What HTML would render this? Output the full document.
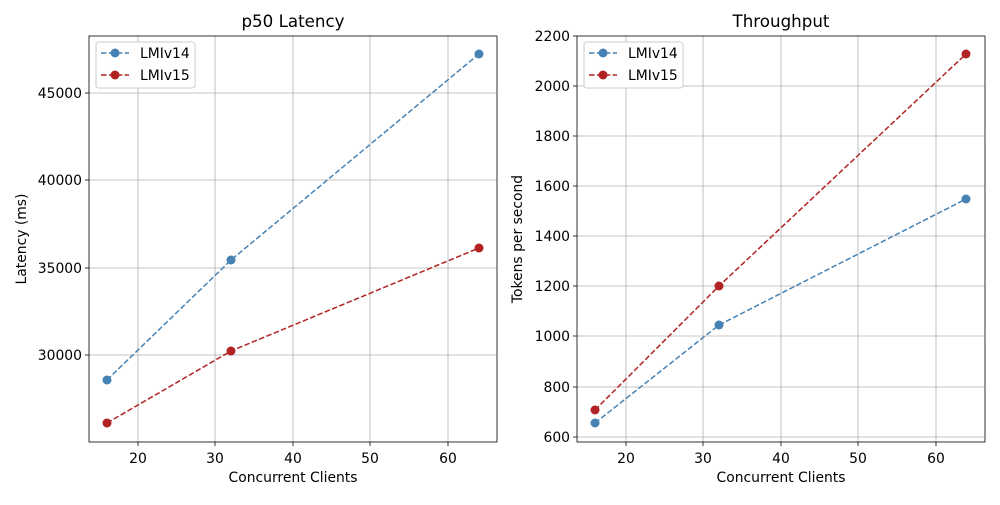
<!DOCTYPE html>
<html><head><style>body{margin:0;background:#fff}svg text{font-family:"DejaVu Sans","Liberation Sans",sans-serif;fill:#000}</style></head><body>
<svg width="1000" height="500" xmlns="http://www.w3.org/2000/svg">
<rect width="1000" height="500" fill="#fff"/>
<g stroke="#b0b0b0" stroke-width="0.8">
<line x1="138" y1="36" x2="138" y2="442"/><line x1="215" y1="36" x2="215" y2="442"/><line x1="293" y1="36" x2="293" y2="442"/><line x1="370" y1="36" x2="370" y2="442"/><line x1="448" y1="36" x2="448" y2="442"/>
<line x1="89" y1="93" x2="497" y2="93"/><line x1="89" y1="180" x2="497" y2="180"/><line x1="89" y1="268" x2="497" y2="268"/><line x1="89" y1="355" x2="497" y2="355"/>
<line x1="626" y1="36" x2="626" y2="442"/><line x1="703" y1="36" x2="703" y2="442"/><line x1="781" y1="36" x2="781" y2="442"/><line x1="858" y1="36" x2="858" y2="442"/><line x1="936" y1="36" x2="936" y2="442"/>
<line x1="577" y1="86" x2="985" y2="86"/><line x1="577" y1="136" x2="985" y2="136"/><line x1="577" y1="186" x2="985" y2="186"/><line x1="577" y1="236" x2="985" y2="236"/><line x1="577" y1="286" x2="985" y2="286"/><line x1="577" y1="336" x2="985" y2="336"/><line x1="577" y1="387" x2="985" y2="387"/><line x1="577" y1="437" x2="985" y2="437"/>
</g>
<g fill="none" stroke-width="1.5" stroke-dasharray="5.5,2.4">
<polyline points="107,380 231,260 479,54" stroke="#4682b4"/>
<polyline points="107,423 231,351 479,248" stroke="#b22222"/>
<polyline points="595,423 719,325 966,199" stroke="#4682b4"/>
<polyline points="595,410 719,286 966,54" stroke="#b22222"/>
</g>
<g fill="#4682b4"><circle cx="107" cy="380" r="4.5"/><circle cx="231" cy="260" r="4.5"/><circle cx="479" cy="54" r="4.5"/><circle cx="595" cy="423" r="4.5"/><circle cx="719" cy="325" r="4.5"/><circle cx="966" cy="199" r="4.5"/></g>
<g fill="#b22222"><circle cx="107" cy="423" r="4.5"/><circle cx="231" cy="351" r="4.5"/><circle cx="479" cy="248" r="4.5"/><circle cx="595" cy="410" r="4.5"/><circle cx="719" cy="286" r="4.5"/><circle cx="966" cy="54" r="4.5"/></g>
<g fill="none" stroke="#000" stroke-width="0.8"><rect x="89" y="36" width="408" height="406"/><rect x="577" y="36" width="408" height="406"/></g>
<g stroke="#000" stroke-width="0.8">
<line x1="138" y1="442" x2="138" y2="446"/><line x1="215" y1="442" x2="215" y2="446"/><line x1="293" y1="442" x2="293" y2="446"/><line x1="370" y1="442" x2="370" y2="446"/><line x1="448" y1="442" x2="448" y2="446"/>
<line x1="85" y1="93" x2="89" y2="93"/><line x1="85" y1="180" x2="89" y2="180"/><line x1="85" y1="268" x2="89" y2="268"/><line x1="85" y1="355" x2="89" y2="355"/>
<line x1="626" y1="442" x2="626" y2="446"/><line x1="703" y1="442" x2="703" y2="446"/><line x1="781" y1="442" x2="781" y2="446"/><line x1="858" y1="442" x2="858" y2="446"/><line x1="936" y1="442" x2="936" y2="446"/>
<line x1="573" y1="36" x2="577" y2="36"/><line x1="573" y1="86" x2="577" y2="86"/><line x1="573" y1="136" x2="577" y2="136"/><line x1="573" y1="186" x2="577" y2="186"/><line x1="573" y1="236" x2="577" y2="236"/><line x1="573" y1="286" x2="577" y2="286"/><line x1="573" y1="336" x2="577" y2="336"/><line x1="573" y1="387" x2="577" y2="387"/><line x1="573" y1="437" x2="577" y2="437"/>
</g>
<g font-size="13.9" text-anchor="middle">
<text x="138" y="463">20</text><text x="215" y="463">30</text><text x="293" y="463">40</text><text x="370" y="463">50</text><text x="448" y="463">60</text>
<text x="626" y="463">20</text><text x="703" y="463">30</text><text x="781" y="463">40</text><text x="858" y="463">50</text><text x="936" y="463">60</text>
<text x="293" y="482">Concurrent Clients</text><text x="781" y="482">Concurrent Clients</text>
<text x="293" y="27" font-size="16.7">p50 Latency</text><text x="781" y="27" font-size="16.7">Throughput</text>
</g>
<g font-size="13.9" text-anchor="end">
<text x="82" y="98">45000</text><text x="82" y="185">40000</text><text x="82" y="273">35000</text><text x="82" y="360">30000</text>
<text x="570" y="41">2200</text><text x="570" y="91">2000</text><text x="570" y="141">1800</text><text x="570" y="191">1600</text><text x="570" y="241">1400</text><text x="570" y="291">1200</text><text x="570" y="341">1000</text><text x="570" y="392">800</text><text x="570" y="442">600</text>
</g>
<text transform="translate(26,239) rotate(-90)" font-size="13.9" text-anchor="middle">Latency (ms)</text>
<text transform="translate(522,239) rotate(-90)" font-size="13.9" text-anchor="middle">Tokens per second</text>
<g font-size="13.9">
<rect x="96" y="42" width="99" height="46" rx="3" fill="#fff" stroke="#ccc"/>
<line x1="101" y1="53" x2="129" y2="53" stroke="#4682b4" stroke-width="1.5" stroke-dasharray="5.5,2.4"/><circle cx="115" cy="53" r="4.5" fill="#4682b4"/><text x="140" y="58">LMIv14</text>
<line x1="101" y1="75" x2="129" y2="75" stroke="#b22222" stroke-width="1.5" stroke-dasharray="5.5,2.4"/><circle cx="115" cy="75" r="4.5" fill="#b22222"/><text x="140" y="80">LMIv15</text>
<rect x="584" y="42" width="99" height="46" rx="3" fill="#fff" stroke="#ccc"/>
<line x1="589" y1="53" x2="617" y2="53" stroke="#4682b4" stroke-width="1.5" stroke-dasharray="5.5,2.4"/><circle cx="603" cy="53" r="4.5" fill="#4682b4"/><text x="628" y="58">LMIv14</text>
<line x1="589" y1="75" x2="617" y2="75" stroke="#b22222" stroke-width="1.5" stroke-dasharray="5.5,2.4"/><circle cx="603" cy="75" r="4.5" fill="#b22222"/><text x="628" y="80">LMIv15</text>
</g>
</svg>
</body></html>
